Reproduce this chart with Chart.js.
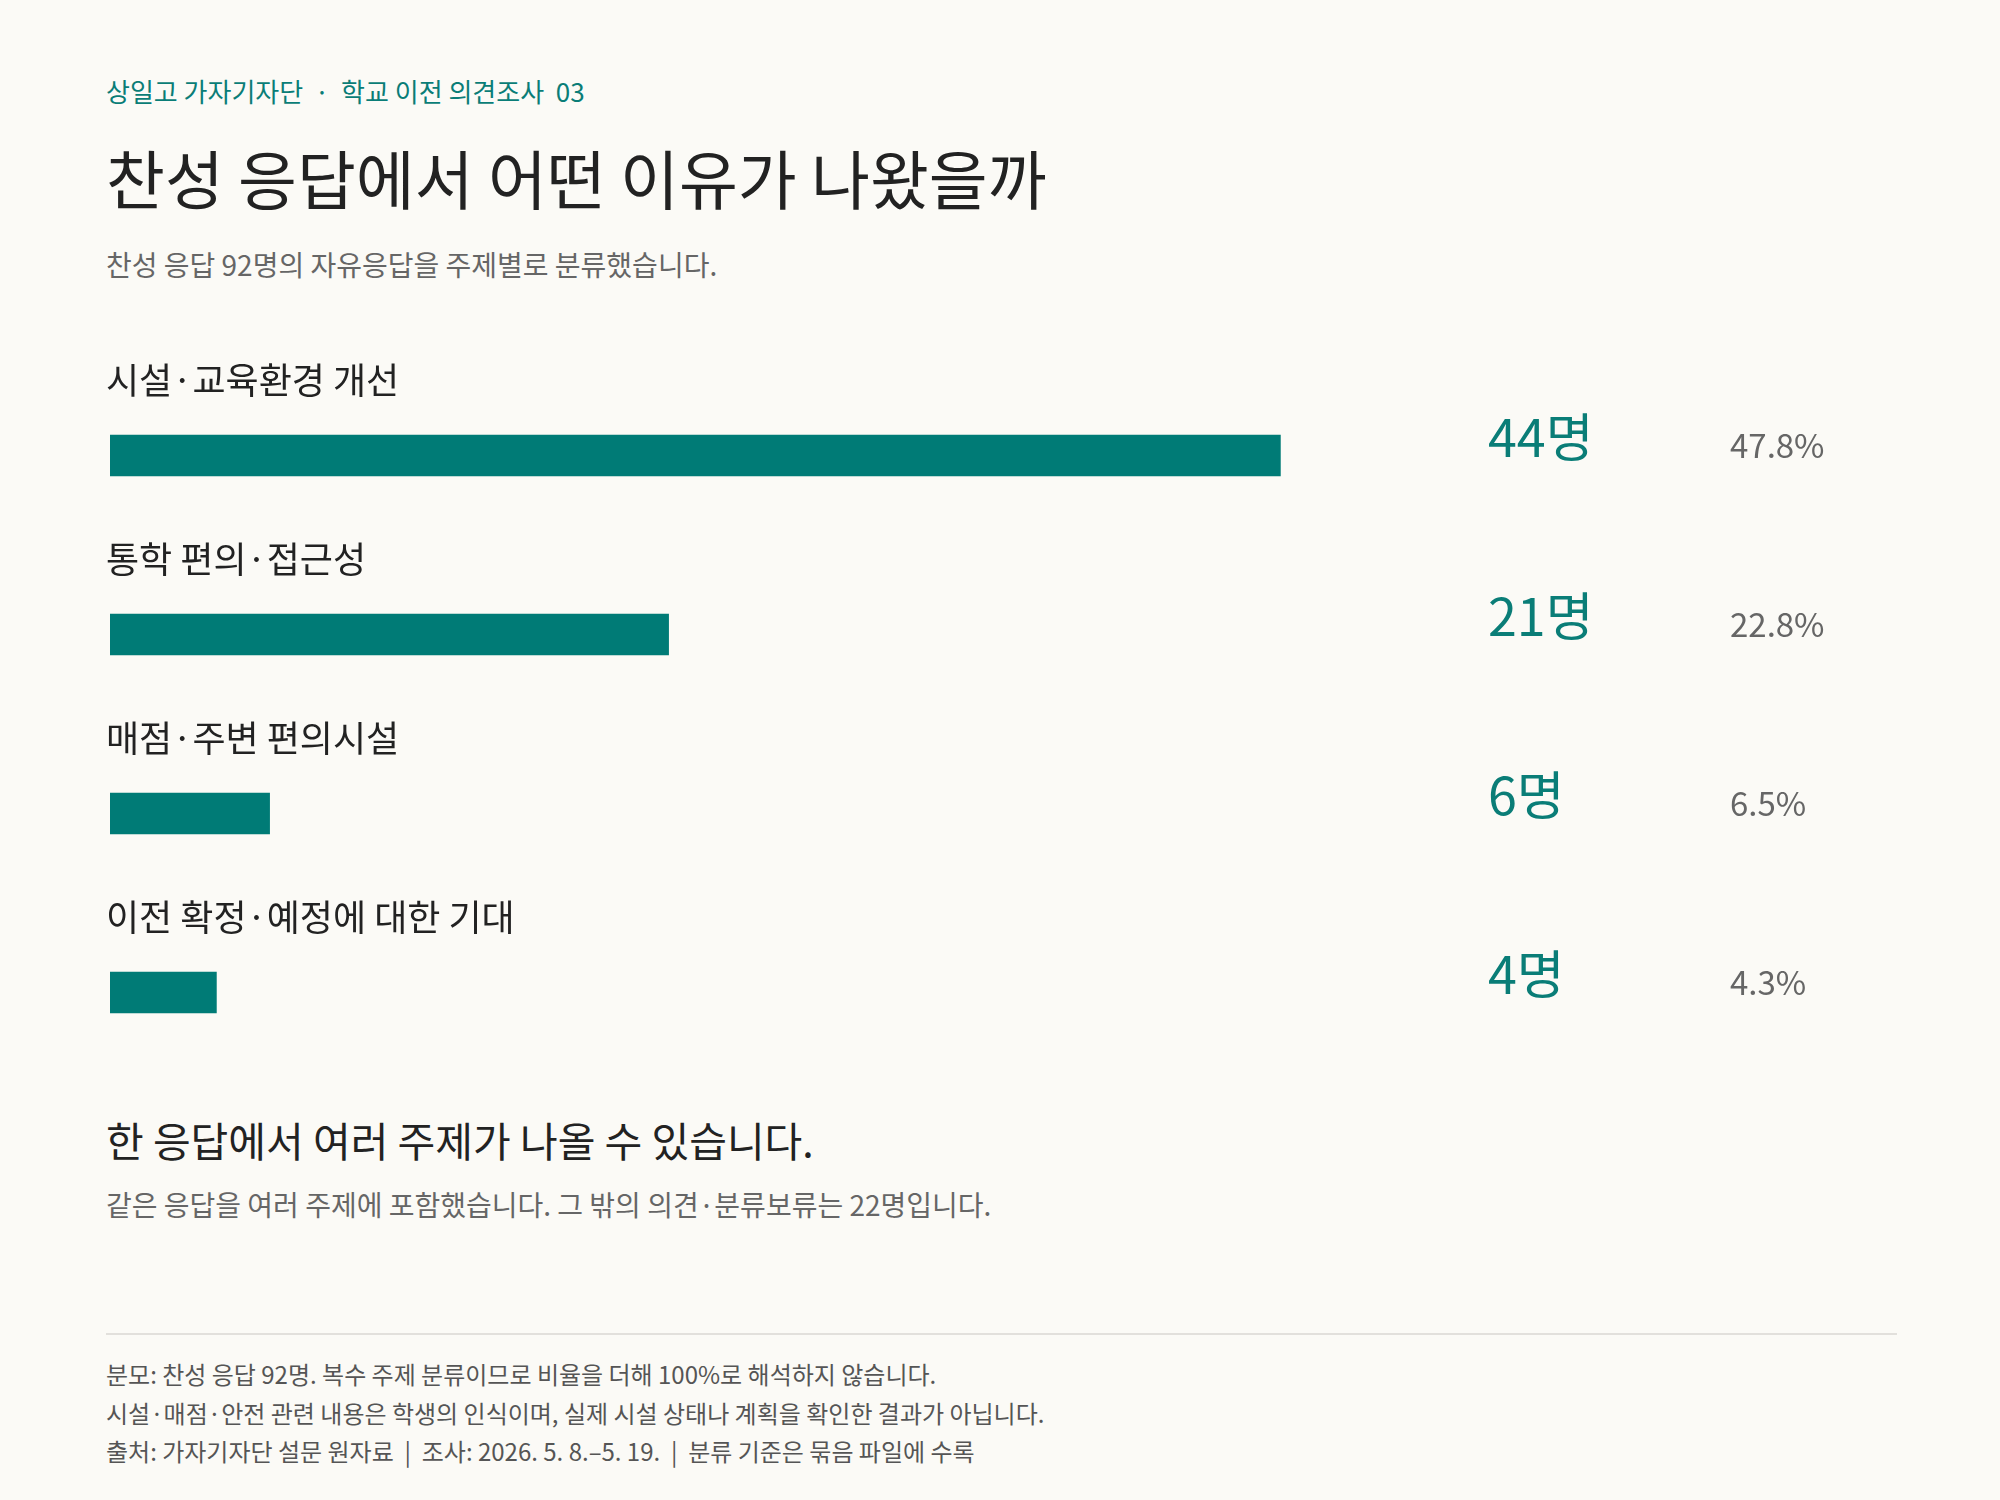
<!DOCTYPE html>
<html><head><meta charset="utf-8">
<script src="https://cdn.jsdelivr.net/npm/chart.js@4"></script>
<style>
html,body{margin:0;padding:0;background:#fbfaf6;}
body{width:2000px;height:1500px;position:relative;overflow:hidden;font-family:"Noto Sans CJK KR","Noto Sans",sans-serif;}
.t{position:absolute;left:106px;white-space:nowrap;}
#c{position:absolute;left:0;top:0;}
</style></head><body>
<div class="t" style="top:72px;font-size:26px;color:#0a7d77;">상일고 가자기자단 &nbsp;·&nbsp; 학교 이전 의견조사 &nbsp;03</div>
<div class="t" style="top:130px;font-size:64px;color:#222;">찬성 응답에서 어떤 이유가 나왔을까</div>
<div class="t" style="top:244px;font-size:28px;color:#666;">찬성 응답 92명의 자유응답을 주제별로 분류했습니다.</div>
<div class="t" style="top:1109px;font-size:41px;color:#222;">한 응답에서 여러 주제가 나올 수 있습니다.</div>
<div class="t" style="top:1184px;font-size:28px;color:#666;">같은 응답을 여러 주제에 포함했습니다. 그 밖의 의견·분류보류는 22명입니다.</div>
<div style="position:absolute;left:106px;top:1333px;width:1791px;height:2px;background:#e2e0dc;"></div>
<div class="t" style="top:1355px;font-size:24px;color:#555;line-height:38.5px;">분모: 찬성 응답 92명. 복수 주제 분류이므로 비율을 더해 100%로 해석하지 않습니다.<br>시설·매점·안전 관련 내용은 학생의 인식이며, 실제 시설 상태나 계획을 확인한 결과가 아닙니다.<br>출처: 가자기자단 설문 원자료 &nbsp;|&nbsp; 조사: 2026. 5. 8.–5. 19. &nbsp;|&nbsp; 분류 기준은 묶음 파일에 수록</div>
<canvas id="c" width="2000" height="1500"></canvas>
<script>
const categories = ["시설·교육환경 개선","통학 편의·접근성","매점·주변 편의시설","이전 확정·예정에 대한 기대"];
const counts = [44,21,6,4];
const percents = ["47.8%","22.8%","6.5%","4.3%"];
const total = 92;
const F = '"Noto Sans CJK KR","Noto Sans",sans-serif';
const labelPlugin = {
  id:'lbl',
  afterDatasetsDraw(chart){
    const ctx=chart.ctx, y=chart.scales.y;
    ctx.save();
    categories.forEach((c,i)=>{
      const cy=y.getPixelForValue(i);
      ctx.textBaseline='middle';ctx.textAlign='left';
      ctx.fillStyle='#222';ctx.font='36px '+F;
      ctx.fillText(c,106,cy-75);
      ctx.fillStyle='#0a7d77';ctx.font='52px '+F;
      ctx.fillText(counts[i]+'명',1488,cy-18);
      ctx.fillStyle='#666';ctx.font='33px '+F;
      ctx.fillText(percents[i],1730,cy-10);
    });
    ctx.restore();
  }
};
new Chart(document.getElementById('c'),{
  type:'bar',
  data:{labels:categories,datasets:[{data:counts,backgroundColor:'#007b76',barThickness:41}]},
  options:{
    indexAxis:'y',responsive:false,animation:false,devicePixelRatio:1,
    layout:{padding:{left:110,right:294,top:366,bottom:418}},
    plugins:{legend:{display:false},tooltip:{enabled:false}},
    scales:{
      x:{min:0,max:60,display:false},
      y:{display:false}
    }
  },
  plugins:[labelPlugin]
});
</script>
</body></html>
